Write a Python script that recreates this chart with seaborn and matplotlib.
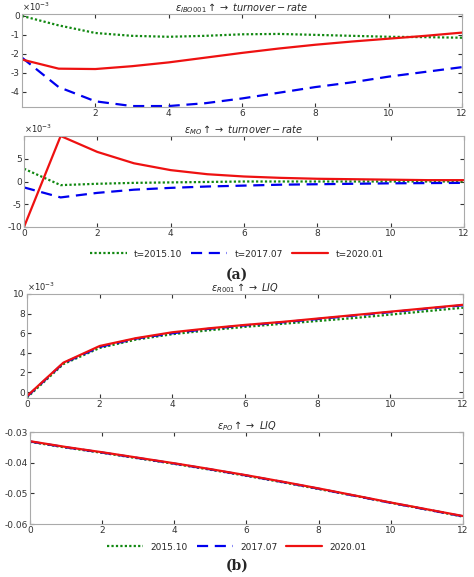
import numpy as np
import pandas as pd
import matplotlib
matplotlib.use("Agg")
import matplotlib.pyplot as plt
import seaborn as sns

steps = list(range(13))

# panel (a) top, values x1e-3
ibo_green = [0, -0.5, -0.9, -1.05, -1.1, -1.05, -0.97, -0.95, -1.0, -1.05, -1.1, -1.12, -1.15]
ibo_blue = [-2.2, -3.75, -4.5, -4.75, -4.75, -4.6, -4.35, -4.05, -3.75, -3.5, -3.2, -2.95, -2.7]
ibo_red = [-2.3, -2.78, -2.8, -2.65, -2.45, -2.2, -1.95, -1.72, -1.52, -1.35, -1.2, -1.05, -0.88]
# panel (a) bottom, x1e-3
mo_green = [2.8, -0.8, -0.5, -0.3, -0.2, -0.1, 0, 0, 0, 0, 0, 0, 0]
mo_blue = [-1.3, -3.5, -2.5, -1.8, -1.4, -1.1, -0.9, -0.7, -0.6, -0.5, -0.4, -0.35, -0.3]
mo_red = [-10, 10, 6.5, 4, 2.5, 1.6, 1.1, 0.8, 0.6, 0.5, 0.4, 0.3, 0.3]
# panel (b) top, x1e-3
r001_green = [-0.55, 2.85, 4.5, 5.35, 5.9, 6.3, 6.65, 6.95, 7.25, 7.55, 7.9, 8.25, 8.6]
r001_blue = [-0.45, 2.95, 4.6, 5.45, 6.0, 6.45, 6.8, 7.1, 7.45, 7.8, 8.15, 8.5, 8.85]
r001_red = [-0.4, 3.0, 4.7, 5.5, 6.1, 6.5, 6.85, 7.15, 7.5, 7.85, 8.2, 8.55, 8.9]
# panel (b) bottom
po_green = [-0.0332, -0.0351, -0.0368, -0.0386, -0.0404, -0.0423, -0.0443, -0.0464, -0.0486, -0.0508, -0.0531, -0.0553, -0.0576]
po_blue = [-0.0331, -0.035, -0.0367, -0.0385, -0.0403, -0.0422, -0.0442, -0.0463, -0.0485, -0.0508, -0.0531, -0.0553, -0.0575]
po_red = [-0.033, -0.0349, -0.0366, -0.0384, -0.0402, -0.0421, -0.0441, -0.0462, -0.0484, -0.0507, -0.053, -0.0552, -0.0574]

sns.set_style("ticks")
plt.rcParams["font.family"] = ["DejaVu Sans"]
plt.rcParams["axes.unicode_minus"] = False

W, H = 474, 577
fig = plt.figure(figsize=(W / 100, H / 100), dpi=100)

def box(l, t, r, b):
    return [l / W, 1 - b / H, (r - l) / W, (b - t) / H]

styles = [("#118811", (0, (1, 1)), 1.6), ("#0000ee", (0, (5, 3)), 1.6), ("#ee1111", "-", 1.6)]

def panel(rect, series, title, ylim, yticks, xticks, scale):
    ax = fig.add_axes(rect)
    for vals, (c, ls, lw) in zip(series, styles):
        sns.lineplot(x=steps, y=vals, ax=ax, color=c, linestyle=ls, linewidth=lw)
    ax.set_xlim(0, 12)
    ax.set_ylim(*ylim)
    ax.set_yticks(yticks)
    ax.set_xticks(xticks)
    ax.tick_params(direction="in", labelsize=6.5, length=3, pad=1.5, top=True, right=True, colors="#333333")
    for s in ax.spines.values():
        s.set_color("#aaaaaa")
    ax.set_title(title, fontsize=7, pad=2)
    if scale:
        ax.text(0, 1.01, r"$\times10^{-3}$", transform=ax.transAxes, fontsize=6, va="bottom")
    return ax

panel(box(22, 14, 462, 107), [ibo_green, ibo_blue, ibo_red],
      r"$\varepsilon_{IBO001}\uparrow\rightarrow\ turnover-rate$", (-4.8, 0.1), [-4, -3, -2, -1, 0], range(2, 13, 2), True)
panel(box(24, 136, 464, 227), [mo_green, mo_blue, mo_red],
      r"$\varepsilon_{MO}\uparrow\rightarrow\ turnover-rate$", (-10, 10), [-10, -5, 0, 5], range(0, 13, 2), True)
fig.legend(handles=[plt.Line2D([], [], color=c, linestyle=ls, linewidth=lw) for c, ls, lw in styles],
           labels=["t=2015.10", "t=2017.07", "t=2020.01"], loc="center", bbox_to_anchor=(0.5, 1 - 254 / H),
           ncol=3, frameon=False, fontsize=6.5, handlelength=4, columnspacing=1)
fig.text(0.5, 1 - 275 / H, "(a)", ha="center", va="center", fontsize=10, fontweight="bold", family="DejaVu Serif")

panel(box(27, 294, 463, 398), [r001_green, r001_blue, r001_red],
      r"$\varepsilon_{R001}\uparrow\rightarrow\ LIQ$", (-0.6, 10), [0, 2, 4, 6, 8, 10], range(0, 13, 2), True)
panel(box(30, 432, 463, 524), [po_green, po_blue, po_red],
      r"$\varepsilon_{PO}\uparrow\rightarrow\ LIQ$", (-0.06, -0.03), [-0.06, -0.05, -0.04, -0.03], range(0, 13, 2), False)
fig.legend(handles=[plt.Line2D([], [], color=c, linestyle=ls, linewidth=lw) for c, ls, lw in styles],
           labels=["2015.10", "2017.07", "2020.01"], loc="center", bbox_to_anchor=(0.5, 1 - 547 / H),
           ncol=3, frameon=False, fontsize=6.5, handlelength=4, columnspacing=1)
fig.text(0.5, 1 - 566 / H, "(b)", ha="center", va="center", fontsize=10, fontweight="bold", family="DejaVu Serif")

fig.savefig("out.png", dpi=100)
